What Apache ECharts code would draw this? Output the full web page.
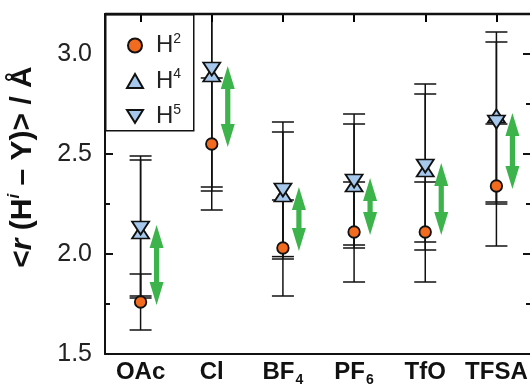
<!DOCTYPE html>
<html>
<head>
<meta charset="utf-8">
<script src="https://cdn.jsdelivr.net/npm/echarts@6/dist/echarts.min.js"></script>
<style>
  html, body { margin: 0; padding: 0; background: #fff; }
  #chart { width: 530px; height: 390px; }
</style>
</head>
<body>
<div id="chart"></div>
<script>
const categories = ['OAc', 'Cl', 'BF4', 'PF6', 'TfO', 'TFSA']

// mean distances <r(H^i - Y)> in Å
const h2 = [1.76, 2.55, 2.03, 2.11, 2.11, 2.34]
const h4 = [2.11, 2.895, 2.295, 2.345, 2.42, 2.69]
const h5 = [2.13, 2.925, 2.32, 2.365, 2.44, 2.66]

// error bar ends
const h2Low = [1.62, 2.22, 1.79, 1.86, 1.86, 2.04]
const h2High = [1.90, 2.88, 2.27, 2.36, 2.36, 2.65]
const h4Low = [1.78, 2.315, 1.975, 2.03, 2.02, 2.25]
const h4High = [2.49, 3.5, 2.66, 2.70, 2.85, 3.11]
const h5Low = [1.79, 2.335, 1.987, 2.045, 2.06, 2.26]
const h5High = [2.47, 3.5, 2.61, 2.65, 2.80, 3.06]

const yMin = 1.5
const yMax = 3.2

const FONT = '"Liberation Sans", Arial, sans-serif'
const ORANGE = '#f26b1f'
const BLUE = '#a6c8ec'
const GREEN = '#3cb44b'
const DOWN_TRI = 'path://M0,0L20,0L10,16Z'

const GRID_L = 105
const GRID_T = 14
const GRID_W = 427
const GRID_H = 340

const chart = echarts.init(document.getElementById('chart'))

function errRows(lo, hi) {
  return lo.map((v, i) => [i, v, hi[i]])
}

function renderErr(params, api) {
  const x = api.value(0)
  const top = api.coord([x, api.value(2)])
  const bot = api.coord([x, api.value(1)])
  const w = 11
  const style = { stroke: '#111', lineWidth: 1.5 }
  return {
    type: 'group',
    children: [
      { type: 'line', shape: { x1: top[0], y1: top[1], x2: bot[0], y2: bot[1] }, style },
      { type: 'line', shape: { x1: top[0] - w, y1: top[1], x2: top[0] + w, y2: top[1] }, style },
      { type: 'line', shape: { x1: bot[0] - w, y1: bot[1], x2: bot[0] + w, y2: bot[1] }, style },
    ],
  }
}

// double headed arrow between H2 and the H4/H5 level
function renderArrow(params, api) {
  const i = api.value(0)
  const a = api.coord([i, api.value(1)])
  const b = api.coord([i, api.value(2)])
  const x = a[0] + 16
  const top = Math.min(a[1], b[1]) - 3
  const bot = Math.max(a[1], b[1]) + 3
  const head = Math.min(23, (bot - top) * 0.45)
  const hw = 7, sw = 2.6
  return {
    type: 'polygon',
    shape: {
      points: [
        [x, top], [x + hw, top + head], [x + sw, top + head],
        [x + sw, bot - head], [x + hw, bot - head], [x, bot],
        [x - hw, bot - head], [x - sw, bot - head], [x - sw, top + head],
        [x - hw, top + head],
      ],
    },
    style: { fill: GREEN },
  }
}

const tickFmt = (v) => (Math.abs(v * 2 - Math.round(v * 2)) < 1e-6 ? v.toFixed(1) : '')

const catFmt = (v) => {
  const m = v.match(/^(\D+)(\d*)$/)
  return '{b|' + m[1] + '}' + (m[2] ? '{s|' + m[2] + '}' : '')
}

const lineStyle = { color: '#111', width: 2 }

const baseY = {
  type: 'value',
  min: yMin,
  max: yMax,
  splitLine: { show: false },
  axisLine: { show: false, onZero: false },
  axisLabel: { show: false },
}

chart.setOption({
  animation: false,
  textStyle: { fontFamily: FONT },
  grid: {
    left: GRID_L, top: GRID_T, width: GRID_W, height: GRID_H,
    outerBoundsMode: 'none', containLabel: false,
  },
  graphic: [
    // legend frame
    {
      type: 'rect',
      left: GRID_L,
      top: GRID_T,
      shape: { width: 88, height: 116 },
      style: { fill: '#fff', stroke: '#111', lineWidth: 1.5 },
      z: 5,
    },
    // top edge of the plot frame
    {
      type: 'line',
      shape: { x1: GRID_L, y1: GRID_T, x2: GRID_L + GRID_W, y2: GRID_T },
      style: { stroke: '#111', lineWidth: 2.5 },
      z: 20,
    },
  ],
  legend: {
    data: ['H2', 'H4', 'H5'],
    orient: 'vertical',
    left: GRID_L,
    top: GRID_T,
    padding: [18, 0, 0, 21],
    itemGap: 10,
    itemWidth: 16,
    itemHeight: 14,
    z: 10,
    textStyle: {
      fontFamily: FONT,
      fontSize: 24,
      color: '#222',
      rich: {
        h: { fontSize: 24, fontFamily: FONT, padding: [0, 0, 0, 8], lineHeight: 24 },
        sup: { fontSize: 14, fontFamily: FONT, padding: [0, 0, 13, 0] },
      },
    },
    formatter: (n) => '{h|H}{sup|' + n.slice(1) + '}',
  },
  xAxis: [
    {
      type: 'category',
      gridIndex: 0,
      data: categories,
      position: 'bottom',
      axisLine: { onZero: false, lineStyle },
      axisTick: { inside: true, length: 7, interval: 0, alignWithLabel: true, lineStyle },
      axisLabel: {
        interval: 0,
        margin: 3,
        color: '#111',
        formatter: catFmt,
        rich: {
          b: { fontSize: 24, fontWeight: 'bold', fontFamily: FONT, lineHeight: 30 },
          s: { fontSize: 14, fontWeight: 'bold', fontFamily: FONT, lineHeight: 14, padding: [16, 0, 0, 1] },
        },
      },
    },
    {
      type: 'category',
      gridIndex: 0,
      data: categories,
      position: 'top',
      z: 10,
      axisLine: { show: true, onZero: false, lineStyle: { color: '#000', width: 2 } },
      axisTick: { show: true, inside: true, length: 8, interval: 0, alignWithLabel: true, lineStyle: { color: '#000', width: 2 } },
      axisLabel: { show: false, interval: 0 },
    },
  ],
  yAxis: [
    {
      type: 'value',
      min: yMin,
      max: yMax,
      interval: 0.5,
      position: 'left',
      splitLine: { show: false },
      axisLine: { show: true, onZero: false, lineStyle },
      axisTick: { show: true, inside: true, length: 8, lineStyle },
      axisLabel: { fontSize: 25, color: '#222', margin: 13, fontFamily: FONT, formatter: tickFmt },
      name: '{b|<}{i|r}{b| (H}{sup|i}{b| – Y)> / Å}',
      nameLocation: 'middle',
      nameGap: 66,
      nameTextStyle: {
        color: '#111',
        padding: [0, 0, 0, 34],
        rich: {
          b: { fontSize: 30, fontWeight: 'bold', fontFamily: FONT },
          i: { fontSize: 30, fontWeight: 'bold', fontStyle: 'italic', fontFamily: FONT },
          sup: { fontSize: 17, fontWeight: 'bold', fontStyle: 'italic', fontFamily: FONT, padding: [0, 0, 16, 0] },
        },
      },
    },
    Object.assign({}, baseY, {
      position: 'left',
      interval: 0.25,
      axisTick: { show: true, inside: true, length: 5, lineStyle },
    }),
    Object.assign({}, baseY, {
      position: 'right',
      interval: 0.5,
      axisLine: { show: true, onZero: false, lineStyle },
      axisTick: { show: true, inside: true, length: 9, lineStyle },
    }),
    Object.assign({}, baseY, {
      position: 'right',
      interval: 0.25,
      axisTick: { show: true, inside: true, length: 6, lineStyle },
    }),
  ],
  series: [
    { type: 'custom', name: 'errH2', data: errRows(h2Low, h2High), renderItem: renderErr, clip: true, z: 1, silent: true },
    { type: 'custom', name: 'errH4', data: errRows(h4Low, h4High), renderItem: renderErr, clip: true, z: 1, silent: true },
    { type: 'custom', name: 'errH5', data: errRows(h5Low, h5High), renderItem: renderErr, clip: true, z: 1, silent: true },
    {
      type: 'custom',
      name: 'shift',
      data: h2.map((v, i) => [i, v, Math.max(h4[i], h5[i])]),
      renderItem: renderArrow,
      clip: true,
      z: 2,
      silent: true,
    },
    {
      type: 'scatter',
      name: 'H2',
      data: h2,
      symbol: 'circle',
      symbolSize: 11.5,
      itemStyle: { color: ORANGE, borderColor: '#111', borderWidth: 1.8, opacity: 1 },
      z: 4,
    },
    {
      type: 'scatter',
      name: 'H4',
      data: h4,
      symbol: 'triangle',
      symbolSize: [17, 13],
      itemStyle: { color: BLUE, borderColor: '#111', borderWidth: 1.8, opacity: 1 },
      z: 4,
    },
    {
      type: 'scatter',
      name: 'H5',
      data: h5,
      symbol: DOWN_TRI,
      symbolSize: [17, 13],
      itemStyle: { color: BLUE, borderColor: '#111', borderWidth: 1.8, opacity: 1 },
      z: 4,
    },
  ],
})
</script>
</body>
</html>
